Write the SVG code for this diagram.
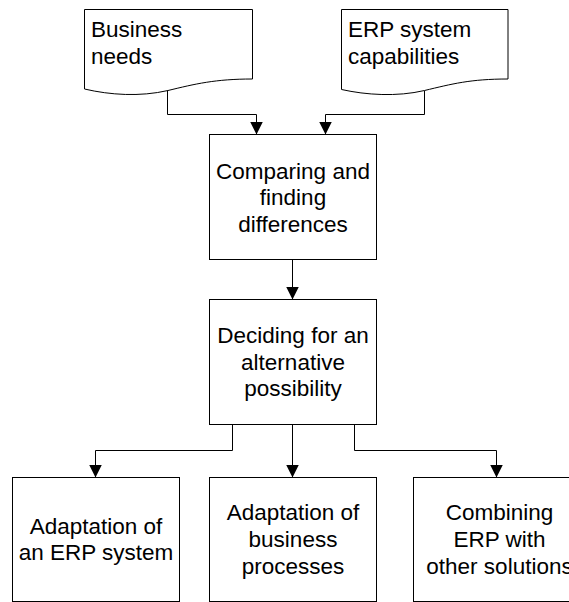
<svg xmlns="http://www.w3.org/2000/svg" width="569" height="602" viewBox="0 0 569 602">
<defs>
<style>
.shape{fill:#fff;stroke:#000;stroke-width:1}
.conn{fill:none;stroke:#000;stroke-width:1}
.t{font-family:"Liberation Sans",Arial,sans-serif;font-size:22.5px;fill:#000}
.c{text-anchor:middle}
</style>
<marker id="arr" viewBox="0 0 13 13" refX="13" refY="6.5" markerWidth="13" markerHeight="13" markerUnits="userSpaceOnUse" orient="auto">
<path d="M0,0 L13,6.5 L0,13 Z" fill="#000"/>
</marker>
</defs>
<rect width="569" height="602" fill="#fff"/>
<g id="connectors">
<path class="conn" d="M167.5,90.5 V114.5 H256.5 V134.5" marker-end="url(#arr)"/>
<path class="conn" d="M424.5,90.5 V114.5 H325.5 V134.5" marker-end="url(#arr)"/>
<path class="conn" d="M292.5,259.5 V299.5" marker-end="url(#arr)"/>
<path class="conn" d="M232.5,424.5 V450.5 H95.5 V477.5" marker-end="url(#arr)"/>
<path class="conn" d="M292.5,424.5 V477.5" marker-end="url(#arr)"/>
<path class="conn" d="M354.5,424.5 V450.5 H496.5 V477.5" marker-end="url(#arr)"/>
</g>
<g id="doc-business-needs">
<path class="shape" d="M84.5,89 V9.5 H252.5 V79 C215,79 195,84 168,90.5 C140,97 110,95 84.5,89 Z"/>
<text class="t" x="91" y="36.5">Business</text>
<text class="t" x="91" y="64">needs</text>
</g>
<g id="doc-erp-capabilities">
<path class="shape" d="M341.5,89.5 V9.5 H508 V79 C470,79 452,84 424.5,90.5 C397,97 366,95 341.5,89.5 Z"/>
<text class="t" x="348" y="36.5">ERP system</text>
<text class="t" x="348" y="64">capabilities</text>
</g>
<g id="node-comparing">
<rect class="shape" x="209.5" y="134.5" width="167" height="125"/>
<text class="t c" x="293" y="178.5">Comparing and</text>
<text class="t c" x="293" y="205">finding</text>
<text class="t c" x="293" y="231.7">differences</text>
</g>
<g id="node-deciding">
<rect class="shape" x="209.5" y="299.5" width="167" height="125"/>
<text class="t c" x="293" y="343">Deciding for an</text>
<text class="t c" x="293" y="369.7">alternative</text>
<text class="t c" x="293" y="396.4">possibility</text>
</g>
<g id="node-adapt-erp">
<rect class="shape" x="12.5" y="477.5" width="167" height="124"/>
<text class="t c" x="96" y="533.6">Adaptation of</text>
<text class="t c" x="96" y="560.3">an ERP system</text>
</g>
<g id="node-adapt-business">
<rect class="shape" x="209.5" y="477.5" width="167" height="124"/>
<text class="t c" x="293" y="520.3">Adaptation of</text>
<text class="t c" x="293" y="547">business</text>
<text class="t c" x="293" y="573.7">processes</text>
</g>
<g id="node-combining">
<rect class="shape" x="413.5" y="477.5" width="172" height="124"/>
<text class="t c" x="499.5" y="520.3">Combining</text>
<text class="t c" x="499.5" y="547">ERP with</text>
<text class="t c" x="499.5" y="573.7">other solutions</text>
</g>
</svg>
